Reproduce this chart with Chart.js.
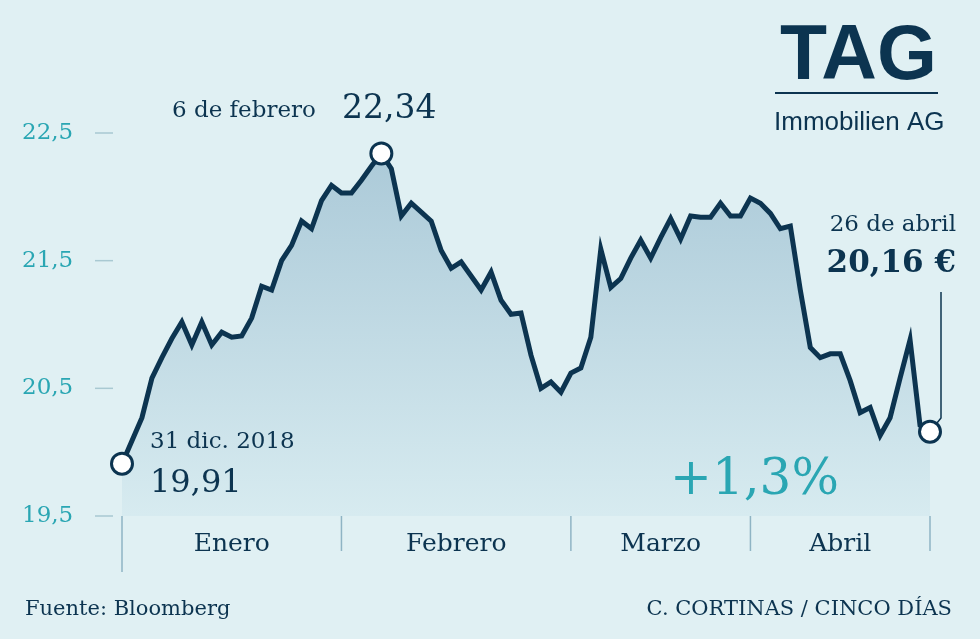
<!DOCTYPE html>
<html><head><meta charset="utf-8">
<script src="https://cdn.jsdelivr.net/npm/chart.js@4"></script>
<style>html,body{margin:0;padding:0;background:#e0f0f3;}#w{width:980px;height:639px;}</style>
</head><body><div id="w"><canvas id="c"></canvas></div>
<script>
const prices = [19.91,20.09,20.27,20.58,20.74,20.89,21.02,20.84,21.02,20.84,20.94,20.90,20.91,21.05,21.30,21.27,21.50,21.62,21.81,21.75,21.97,22.09,22.03,22.03,22.13,22.24,22.34,22.22,21.85,21.95,21.88,21.81,21.58,21.44,21.49,21.38,21.27,21.41,21.19,21.08,21.09,20.76,20.50,20.55,20.47,20.62,20.66,20.90,21.59,21.29,21.36,21.52,21.66,21.52,21.68,21.83,21.67,21.85,21.84,21.84,21.95,21.85,21.85,21.99,21.95,21.87,21.75,21.77,21.27,20.82,20.74,20.77,20.77,20.56,20.31,20.35,20.13,20.27,20.58,20.88,20.21,20.16];
const yTicks = [19.5,20.5,21.5,22.5];
const yTickLabels = ['19,5','20,5','21,5','22,5'];
const months = ['Enero','Febrero','Marzo','Abril'];
const monthBounds = [0,22,45,63,81];
const peakIndex = 26;

const SERIF = '"DejaVu Serif", serif';
const NAVY = '#0c3450';
const TEAL = '#2aa6b3';

const deco = {
  id:'deco',
  beforeDraw(ch){
    const c=ch.ctx, y=ch.scales.y;
    c.save();
    c.fillStyle='#e0f0f3'; c.fillRect(0,0,ch.width,ch.height);
    c.font='23px '+SERIF; c.fillStyle=TEAL; c.textAlign='left'; c.textBaseline='middle';
    c.strokeStyle='#a9c9d2'; c.lineWidth=1.5;
    yTicks.forEach((v,i)=>{const py=y.getPixelForValue(v);
      c.fillText(yTickLabels[i],22,py);
      c.beginPath();c.moveTo(95,py);c.lineTo(113,py);c.stroke();});
    c.restore();
  },
  afterDraw(ch){
    const c=ch.ctx, y=ch.scales.y, x=ch.scales.x;
    c.save();
    const base=y.getPixelForValue(19.5);
    c.strokeStyle='#8fb4c4'; c.lineWidth=1.5;
    monthBounds.forEach((b,i)=>{const px=x.getPixelForValue(b);
      c.beginPath();c.moveTo(px,base);c.lineTo(px,i===0?572:551);c.stroke();});
    c.fillStyle=NAVY; c.font='25px '+SERIF; c.textAlign='center'; c.textBaseline='middle';
    months.forEach((m,i)=>{c.fillText(m,(x.getPixelForValue(monthBounds[i])+x.getPixelForValue(monthBounds[i+1]))/2,544);});
    const lx=x.getPixelForValue(81), ly=y.getPixelForValue(prices[81]);
    c.strokeStyle=NAVY; c.lineWidth=1.5;
    c.beginPath();c.moveTo(941,292);c.lineTo(941,418);c.lineTo(lx,ly);c.stroke();
    [0,peakIndex,81].forEach((i)=>{
      const px=x.getPixelForValue(i), py=y.getPixelForValue(prices[i]);
      c.beginPath();c.arc(px,py,10.5,0,Math.PI*2);c.fillStyle='#fff';c.fill();
      c.lineWidth=3;c.strokeStyle=NAVY;c.stroke();});
    c.textAlign='left'; c.textBaseline='alphabetic'; c.fillStyle=NAVY;
    c.font='23px '+SERIF; c.fillText('6 de febrero',172,117);
    c.font='33px '+SERIF; c.fillText('22,34',342,118);
    c.font='23px '+SERIF; c.fillText('31 dic. 2018',150,448);
    c.font='32px '+SERIF; c.fillText('19,91',150,492);
    c.textAlign='right';
    c.font='23px '+SERIF; c.fillText('26 de abril',956,231);
    c.font='bold 31px '+SERIF; c.fillText('20,16 €',956,272);
    c.fillStyle=TEAL; c.font='50px '+SERIF; c.textAlign='left'; c.fillText('+1,3%',670,494);
    c.fillStyle=NAVY; c.font='21px '+SERIF;
    c.fillText('Fuente: Bloomberg',25,615);
    c.textAlign='right'; c.fillText('C. CORTINAS / CINCO DÍAS',952,615);
    c.font='bold 77px "Liberation Sans", Arial, sans-serif'; c.textAlign='left';
    c.fillText('TAG',780,79);
    c.fillRect(775,92,163,2);
    c.font='26px "Liberation Sans", Arial, sans-serif'; c.fillText('Immobilien AG',774,130);
    c.restore();
  }
};

new Chart(document.getElementById('c'),{
  type:'line',
  data:{labels:prices.map((_,i)=>i),datasets:[{data:prices.map((v,i)=>({x:i,y:v})),
    borderColor:NAVY,borderWidth:5,pointRadius:0,tension:0,borderJoinStyle:'miter',
    fill:'start',
    backgroundColor:(ctx)=>{const a=ctx.chart.chartArea; if(!a) return 'rgba(150,185,205,0.6)';
      const g=ctx.chart.ctx.createLinearGradient(0,a.top,0,a.bottom);
      g.addColorStop(0,'#a9c8d7');g.addColorStop(1,'#d7ebf0');return g;}}]},
  options:{responsive:true,maintainAspectRatio:false,animation:false,
    layout:{padding:{left:122,right:50,top:133,bottom:123}},
    plugins:{legend:{display:false},tooltip:{enabled:false}},
    scales:{x:{type:'linear',min:0,max:81,display:false},
            y:{min:19.5,max:22.5,display:false}}},
  plugins:[deco]
});
</script></body></html>
